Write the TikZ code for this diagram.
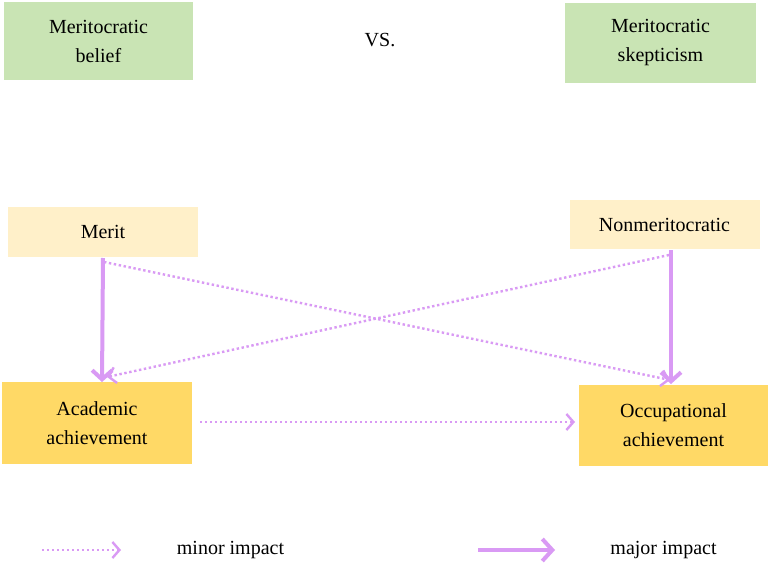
\documentclass[tikz,border=0pt]{standalone}
\usepackage{fontspec}
\setmainfont{Liberation Serif}
\usetikzlibrary{arrows.meta}
\definecolor{bgreen}{HTML}{C9E4B4}
\definecolor{lyellow}{HTML}{FFF0C9}
\definecolor{gold}{HTML}{FFD966}
\definecolor{arr}{HTML}{D99AF4}
\tikzset{
  box/.style={draw=none, inner sep=0pt, align=center, font=\fontsize{20}{29}\selectfont},
  major/.style={draw=arr, line width=4pt, -{Straight Barb[length=9pt,width=20pt,line width=4pt]}},
  minor/.style={draw=arr, line width=2.4pt, dash pattern=on 2.4pt off 2.6pt, -{Straight Barb[length=7pt,width=16pt,line width=2.4pt]}},
  lbl/.style={font=\fontsize{20}{24}\selectfont, inner sep=0pt}
}
\begin{document}
\begin{tikzpicture}[x=1pt,y=-1pt]
\useasboundingbox (0,0) rectangle (770,564);
\fill[white] (0,0) rectangle (770,564);
% top boxes
\fill[bgreen] (4,2) rectangle (193,80);
\node[box] (belief) at (98.5,41) {Meritocratic\\belief};
\fill[bgreen] (565,3) rectangle (756,83);
\node[box] (skept) at (660.5,43) {Meritocratic\\skepticism};
\node[lbl] (vs) at (380,40) {VS.};
% middle
\fill[lyellow] (8,207) rectangle (198,257);
\node[box] (meritt) at (103,232) {Merit};
\coordinate (merit) at (103,258);
\fill[lyellow] (570,200) rectangle (760,249);
\node[box] (nonmt) at (664.5,224.5) {Nonmeritocratic};
\coordinate (nonm) at (671,250);
% bottom boxes
\fill[gold] (2,382) rectangle (192,464);
\node[box] (acadt) at (97,423) {Academic\\achievement};
\fill[gold] (579,385) rectangle (768,466);
\node[box] (occt) at (673.5,425.5) {Occupational\\achievement};
\coordinate (acadtop) at (102,382);
\coordinate (occtop) at (671,384);
\coordinate (meritd) at (104,262);
\coordinate (nonmd) at (669,255);
\coordinate (acadd) at (107,377);
\coordinate (occd) at (670,380);
\coordinate (acr) at (200,422);
\coordinate (occl) at (575,422);
% arrows
\draw[major] (merit) -- (acadtop);
\draw[major] (nonm) -- (occtop);
\draw[minor] (meritd) -- (occd);
\draw[minor] (nonmd) -- (acadd);
\draw[minor] (acr) -- (occl);
% legend
\coordinate (l1a) at (42,550);
\coordinate (l1b) at (121,550);
\draw[minor] (l1a) -- (l1b);
\node[lbl] (minor) at (230.5,550) {minor impact};
\coordinate (l2a) at (478,550);
\coordinate (l2b) at (555,550);
\draw[major, -{Straight Barb[length=10pt,width=22pt,line width=4pt]}] (l2a) -- (l2b);
\node[lbl] (major) at (663.5,550) {major impact};
\end{tikzpicture}
\end{document}
